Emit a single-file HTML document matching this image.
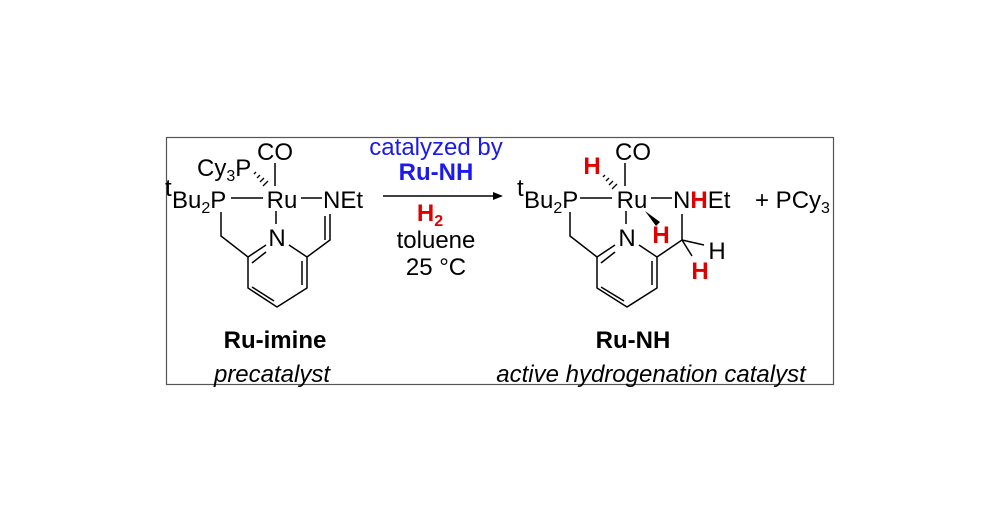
<!DOCTYPE html>
<html><head><meta charset="utf-8"><style>
html,body{margin:0;padding:0;background:#fff;}
svg{display:block;}
text{font-family:"Liberation Sans",sans-serif;font-size:24px;fill:#000;}
.b{font-weight:bold;}
.r{fill:#e00000;font-weight:bold;}
.bl{fill:#1a1aee;}
.i{font-style:italic;}
</style></head><body>
<svg width="1000" height="523" viewBox="0 0 1000 523">
<rect x="166.5" y="137.5" width="667" height="247" fill="none" stroke="#555" stroke-width="1.2"/>
<g stroke="#000" stroke-width="1.5" fill="none">
<!-- left molecule -->
<line x1="275" y1="163" x2="275" y2="186"/>
<line x1="231" y1="198" x2="263" y2="198"/>
<line x1="301" y1="198" x2="322" y2="198"/>
<line x1="276" y1="211" x2="276" y2="224"/>
<polyline points="221,212 221,236 248,257"/>
<polyline points="248,257 248,288 277,307 307,288 307,257 289,245"/>
<line x1="266" y1="245" x2="248" y2="257"/>
<line x1="252" y1="263" x2="266" y2="252"/>
<line x1="252" y1="287" x2="274" y2="301"/>
<line x1="302" y1="261" x2="302" y2="285"/>
<polyline points="307,257 330,240 330,214"/>
<line x1="325" y1="240" x2="325" y2="216"/>
<!-- right molecule -->
<line x1="625" y1="163" x2="625" y2="186"/>
<line x1="580" y1="198" x2="612" y2="198"/>
<line x1="651" y1="198" x2="672" y2="198"/>
<line x1="626" y1="211" x2="626" y2="224"/>
<polyline points="570,212 570,236 597,257"/>
<polyline points="597,257 597,288 627,307 657,288 657,257 639,245"/>
<line x1="615" y1="245" x2="597" y2="257"/>
<line x1="601" y1="263" x2="615" y2="252"/>
<line x1="601" y1="287" x2="624" y2="301"/>
<line x1="652" y1="261" x2="652" y2="285"/>
<polyline points="657,257 682,240 682,214"/>
<line x1="682" y1="240" x2="704" y2="245"/>
<line x1="682" y1="240" x2="692" y2="256"/>
<!-- arrow -->
<line x1="383" y1="196" x2="496" y2="196"/>
</g>
<polygon points="503,196 493,192 493,200" fill="#000"/>
<g stroke="#000" stroke-width="1.3">
<line x1="254" y1="174" x2="256" y2="172"/><line x1="257" y1="178" x2="260" y2="175"/><line x1="260" y1="182" x2="264" y2="178"/><line x1="263" y1="186" x2="268" y2="181"/>
<line x1="603" y1="177" x2="605" y2="175"/><line x1="606" y1="181" x2="609" y2="178"/><line x1="609" y1="185" x2="613" y2="181"/><line x1="612" y1="189" x2="617" y2="184"/>
</g>
<polygon points="645,211 660,222 656,226" fill="#000"/>
<!-- left labels -->
<text x="275" y="160" text-anchor="middle">CO</text>
<text x="197" y="176">Cy<tspan font-size="16" dy="5">3</tspan><tspan dy="-5">P</tspan></text>
<text x="165" y="196" font-size="15">t</text>
<text x="172" y="208">Bu<tspan font-size="16" dy="5">2</tspan><tspan dy="-5">P</tspan></text>
<text x="282" y="208" text-anchor="middle">Ru</text>
<text x="323" y="208">NEt</text>
<text x="277" y="246" text-anchor="middle">N</text>
<text x="275" y="348" text-anchor="middle" class="b">Ru-imine</text>
<text x="272" y="382" text-anchor="middle" class="i">precatalyst</text>
<!-- conditions -->
<text x="436" y="155" text-anchor="middle" class="bl">catalyzed by</text>
<text x="436" y="180" text-anchor="middle" class="bl b">Ru-NH</text>
<text x="430" y="221" text-anchor="middle" class="r">H<tspan font-size="16" dy="5">2</tspan></text>
<text x="436" y="248" text-anchor="middle">toluene</text>
<text x="436" y="275" text-anchor="middle">25 °C</text>
<!-- right labels -->
<text x="633" y="160" text-anchor="middle">CO</text>
<text x="592" y="174" text-anchor="middle" class="r">H</text>
<text x="517" y="196" font-size="15">t</text>
<text x="524" y="208">Bu<tspan font-size="16" dy="5">2</tspan><tspan dy="-5">P</tspan></text>
<text x="632" y="208" text-anchor="middle">Ru</text>
<text x="673" y="208">N<tspan class="r">H</tspan>Et</text>
<text x="755" y="208">+ PCy<tspan font-size="16" dy="5">3</tspan></text>
<text x="627" y="246" text-anchor="middle">N</text>
<text x="661" y="243" text-anchor="middle" class="r">H</text>
<text x="717" y="259" text-anchor="middle">H</text>
<text x="700" y="279" text-anchor="middle" class="r">H</text>
<text x="633" y="348" text-anchor="middle" class="b">Ru-NH</text>
<text x="651" y="382" text-anchor="middle" class="i">active hydrogenation catalyst</text>
</svg>
</body></html>
